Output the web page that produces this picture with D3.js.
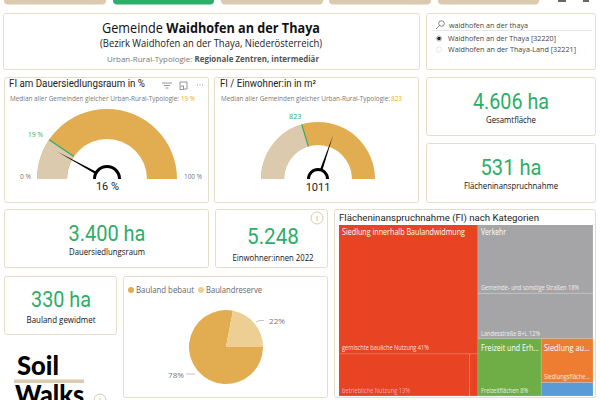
<!DOCTYPE html>
<html><head><meta charset="utf-8">
<script src="https://cdn.jsdelivr.net/npm/d3@7"></script>
<style>html,body{margin:0;padding:0;background:#fff;overflow:hidden}svg{display:block}text{font-family:"Open Sans",sans-serif}</style>
</head><body><svg id="c" width="600" height="400"></svg>
<script>
// ---- data ----
const gauge1Domain = [0, 100], gauge1Value = 16, gauge1Median = 19;
const gauge2Domain = [436, 1385], gauge2Value = 1011, gauge2Median = 823;
const pieNames = ["Bauland bebaut", "Baulandreserve"];
const pieValues = [78, 22];
const tmSiedlung = [41, 12.6, 0.8];
const tmVerkehr = [18, 12];
const tmFreizeit = [8.3];
const tmAussen = [5.2, 1.6];
const searchItems = ["Waidhofen an der Thaya [32220]", "Waidhofen an der Thaya-Land [32221]"];

const GOLD="#E2AC50", TAN="#DBCAAD", GREEN="#2DAE66", BORDER="#E6DCC9", ORANGE="#F5A62E";
const svg=d3.select("#c");
function T(x,y,s,o={}){
  const t=svg.append("text").attr("x",x).attr("y",y).text(s)
    .attr("font-size",o.size||9).attr("fill",o.fill||"#222")
    .attr("font-weight",o.weight||400).attr("text-anchor",o.anchor||"start")
    .style("font-family",o.font||'"Open Sans",sans-serif');
  if(o.width){t.attr("textLength",o.width).attr("lengthAdjust","spacingAndGlyphs");}
  return t;
}
function card(x0,y0,x1,y1){svg.append("rect").attr("x",x0+.5).attr("y",y0+.5).attr("width",x1-x0-1).attr("height",y1-y0-1).attr("rx",2).attr("fill","#fff").attr("stroke",BORDER);}

// top tabs
[[4,106,TAN],[113,214,GREEN],[221,323,TAN],[329,431,TAN],[438,539,TAN]].forEach(([a,b,c])=>{
  svg.append("rect").attr("x",a).attr("y",-8).attr("width",b-a).attr("height",12.5).attr("rx",4).attr("fill",c);
});
[[558,8],[583,6]].forEach(([x,w])=>svg.append("rect").attr("x",x).attr("y",0).attr("width",w).attr("height",2).attr("fill","#666"));

// cards
[[3,13,420,70],[426,13,596,70],[4,77,209,203],[214,77,419,203],[426,77,596,136],[426,143,596,203],
 [4,209,209,268],[215,209,328,268],[4,276,117,335],[123,276,328,398],[334,209,596,398]].forEach(c=>card(...c));

// header
const h=T(211,32.5,"",{size:15,anchor:"middle",fill:"#111",width:218});
h.append("tspan").text("Gemeinde ");h.append("tspan").attr("font-weight",700).text("Waidhofen an der Thaya");
T(211,47,"(Bezirk Waidhofen an der Thaya, Niederösterreich)",{size:10.5,anchor:"middle",fill:"#222",width:222});
const u=T(213,62,"",{size:8,anchor:"middle",fill:"#777",width:212});
u.append("tspan").text("Urban-Rural-Typologie: ");u.append("tspan").attr("font-weight",700).attr("fill","#555").text("Regionale Zentren, intermediär");

// search box
svg.append("circle").attr("cx",441.5).attr("cy",23.5).attr("r",2.8).attr("fill","none").attr("stroke","#555").attr("stroke-width",.7);
svg.append("line").attr("x1",439.5).attr("y1",25.5).attr("x2",436).attr("y2",29).attr("stroke","#555").attr("stroke-width",.7);
T(449,28,"waidhofen an der thaya",{size:8,fill:"#444",width:79});
svg.append("line").attr("x1",433).attr("x2",592).attr("y1",30.5).attr("y2",30.5).attr("stroke","#E6E6E6");
searchItems.forEach((s,i)=>{
  const y=38.5+i*11;
  svg.append("circle").attr("cx",439).attr("cy",y).attr("r",2.6).attr("fill","#fff").attr("stroke",i?"#ddd":"#999").attr("stroke-width",.7);
  if(!i)svg.append("circle").attr("cx",439).attr("cy",y).attr("r",1.8).attr("fill","#222");
  T(448,y+2.7,s,{size:8,fill:"#444",width:i?128:108});
});

// gauges
function gauge(cx,cy,R,r,hub,dom,val,med,needleLen){
  const ang=d3.scaleLinear().domain(dom).range([-Math.PI/2,Math.PI/2]);
  const arc=d3.arc().innerRadius(r).outerRadius(R);
  const g=svg.append("g").attr("transform",`translate(${cx},${cy})`);
  g.append("path").attr("d",arc({startAngle:-Math.PI/2,endAngle:Math.PI/2})).attr("fill",GOLD);
  g.append("path").attr("d",arc({startAngle:-Math.PI/2,endAngle:ang(med)})).attr("fill",TAN);
  const p=(a,l)=>[l*Math.sin(a),-l*Math.cos(a)];
  const am=ang(med),[mx0,my0]=p(am,r),[mx1,my1]=p(am,R);
  g.append("line").attr("x1",mx0).attr("y1",my0).attr("x2",mx1).attr("y2",my1).attr("stroke",GREEN).attr("stroke-width",1.2);
  const av=ang(val),[a0,b0]=p(av,hub-1),[a1,b1]=p(av,needleLen),nx=Math.cos(av),ny=Math.sin(av);
  g.append("path").attr("d",d3.line()([[a0-nx*1.2,b0-ny*1.2],[a1,b1],[a0+nx*1.2,b0+ny*1.2]])+"Z").attr("fill","#000");
  g.append("path").attr("d",d3.arc().innerRadius(hub-3).outerRadius(hub)({startAngle:-Math.PI/2,endAngle:Math.PI/2})).attr("fill","#000");
}
const mGauge={size:6.4,fill:"#777"};
// gauge 1
T(9,87,"FI am Dauersiedlungsraum in %",{size:10,font:"Roboto",fill:"#222",width:136});
T(10,101,"Median aller Gemeinden gleicher Urban-Rural-Typologie:",{...mGauge,width:169});
T(181,101,"19 %",{size:6.4,fill:ORANGE,width:14});
gauge(107,179,70,40,14,gauge1Domain,gauge1Value,gauge1Median,57);
T(28,137,"19 %",{size:7.5,fill:GREEN,width:15});
T(20,179,"0 %",{size:6.6,fill:"#777"});
T(184,179,"100 %",{size:6.6,fill:"#777",width:18});
T(107.5,190,"16 %",{size:11,anchor:"middle",fill:"#222",font:"Roboto"});
// gauge 1 header icons
svg.append("g").attr("fill","none").attr("stroke","#888").attr("stroke-width",.9).call(g=>{
  [[162,172],[164,170],[165.5,168.5]].forEach(([a,b],i)=>g.append("line").attr("x1",a).attr("x2",b).attr("y1",83+i*2.5).attr("y2",83+i*2.5));
  g.append("path").attr("d",d3.line()([[180,85],[180,82],[187,82],[187,89],[184,89]]));
  g.append("rect").attr("x",180).attr("y",86).attr("width",3.5).attr("height",3.5);
});
[197.5,200,202.5].forEach(x=>svg.append("circle").attr("cx",x).attr("cy",85).attr("r",.6).attr("fill","#888"));
// gauge 2
T(220,87,"FI / Einwohner:in in m²",{size:10,font:"Roboto",fill:"#222",width:96});
T(221,101,"Median aller Gemeinden gleicher Urban-Rural-Typologie:",{...mGauge,width:169});
T(391,101,"823",{size:6.4,fill:ORANGE,width:11});
gauge(318,179,57,34,11,gauge2Domain,gauge2Value,gauge2Median,46);
T(289,118.5,"823",{size:6.4,fill:GREEN,width:12.5});
T(318,191,"1011",{size:11,anchor:"middle",fill:"#222",font:"Roboto"});

// KPIs
function kpi(cx,base,val,w,lab,ly,lw){
  T(cx,base,val,{size:22,anchor:"middle",fill:GREEN,font:"Roboto",weight:400,width:w});
  T(cx,ly,lab,{size:8.5,anchor:"middle",fill:"#111",width:lw});
}
kpi(511,109,"4.606 ha",76,"Gesamtfläche",123,50);
kpi(511,175,"531 ha",61,"Flächeninanspruchnahme",189,94);
kpi(107,241,"3.400 ha",77,"Dauersiedlungsraum",255,76);
kpi(273,244,"5.248",52,"Einwohner:innen 2022",261,81);
kpi(61,307,"330 ha",60,"Bauland gewidmet",323,69);
function info(x,y){
  svg.append("circle").attr("cx",x).attr("cy",y).attr("r",6).attr("fill","#fff").attr("stroke",TAN).attr("stroke-width",1);
  T(x,y+3,"i",{size:8,anchor:"middle",fill:"#B5A687"});
}
info(317,218);

// pie
const col=d3.scaleOrdinal().domain(pieNames).range([GOLD,"#EDCE93"]);
pieNames.forEach((n,i)=>{
  const xs=[131,201][i];
  svg.append("circle").attr("cx",xs).attr("cy",290).attr("r",3).attr("fill",col(n));
  T(xs+5,293,n,{size:8.5,fill:"#666",width:[58,56][i]});
});
const pieG=svg.append("g").attr("transform","translate(226,347)");
const pie=d3.pie().sort(null).startAngle(Math.PI/2).endAngle(Math.PI*2.5)(pieValues);
const parc=d3.arc().innerRadius(0).outerRadius(37);
pieG.selectAll("path").data(pie).join("path").attr("d",parc).attr("fill",(d,i)=>col(pieNames[i]));
[[256,322,259,320.5,264,320.5],[195,374,190,374,186,374]].forEach(p=>{
  svg.append("path").attr("d",`M${p[0]},${p[1]}L${p[2]},${p[3]}L${p[4]},${p[5]}`).attr("fill","none").attr("stroke","#aaa").attr("stroke-width",.7);
});
T(269,324,pieValues[1]+"%",{size:8,fill:"#777",width:16});
T(168,378,pieValues[0]+"%",{size:8,fill:"#777",width:16});

// treemap
T(339,221,"Flächeninanspruchnahme (FI) nach Kategorien",{size:9.5,font:"Roboto",fill:"#222",width:200});
const tree={dir:"h",children:[
  {dir:"v",color:"#E84322",children:[{value:tmSiedlung[0]},{dir:"h",children:[{value:tmSiedlung[1]},{value:tmSiedlung[2]}]}]},
  {dir:"v",children:[
    {dir:"v",color:"#A5A5A7",children:[{value:tmVerkehr[0]},{value:tmVerkehr[1]}]},
    {dir:"h",children:[
      {color:"#6FAD47",value:tmFreizeit[0]},
      {dir:"v",children:[{color:"#EE7D32",value:tmAussen[0]},{color:"#5B9BD5",value:tmAussen[1]}]}
    ]}
  ]}
]};
const root=d3.hierarchy(tree).sum(d=>d.value||0);
d3.treemap().size([254,171]).round(false).tile((n,a,b,c,d)=>(n.data.dir==="h"?d3.treemapDice:d3.treemapSlice)(n,a,b,c,d))(root);
const tg=svg.append("g").attr("transform","translate(339,225)");
function colorOf(n){let p=n;while(p){if(p.data.color)return p.data.color;p=p.parent;}return "#ccc";}
tg.selectAll("rect").data(root.leaves()).join("rect")
 .attr("x",d=>d.x0).attr("y",d=>d.y0).attr("width",d=>d.x1-d.x0).attr("height",d=>d.y1-d.y0)
 .attr("fill",colorOf);
tg.selectAll("path").data(root.leaves()).join("path")
 .attr("d",d=>`M${d.x0},${d.y1}H${d.x1}M${d.x1},${d.y0}V${d.y1}`).attr("fill","none").attr("stroke","rgba(255,255,255,.22)").attr("stroke-width",.7);
const big={size:9,fill:"#fff"},sm={size:6.6,fill:"#fff"};
T(342,235,"Siedlung innerhalb Baulandwidmung",{...big,width:123});
T(342,350,"gemischte bauliche Nutzung 41%",{...sm,fill:"#fde0d8",width:87});
T(342,393,"betriebliche Nutzung 13%",{...sm,fill:"#F6A9B8",width:68});
T(481,235,"Verkehr",{...big,width:25});
T(481,290,"Gemeinde- und sonstige Straßen 18%",{...sm,fill:"#eee",width:98});
T(481,336,"Landesstraße B+L 12%",{...sm,fill:"#eee",width:59});
T(481,351,"Freizeit und Erh...",{...big,width:58});
T(481,393,"Freizeitflächen 8%",{...sm,fill:"#eaf3e2",width:47});
T(544,351,"Siedlung au...",{...big,width:46});
T(544,379,"Siedlungsfläche...",{...sm,fill:"#fde8d8",width:46});

// logo
T(17,375,"Soil",{size:26,weight:900,font:"Lato",fill:"#000",width:42});
svg.append("rect").attr("x",14).attr("y",379.5).attr("width",70).attr("height",3.5).attr("fill",TAN);
T(15,404,"Walks",{size:26,weight:900,font:"Lato",fill:"#000",width:69});
info(100,400);
</script></body></html>
